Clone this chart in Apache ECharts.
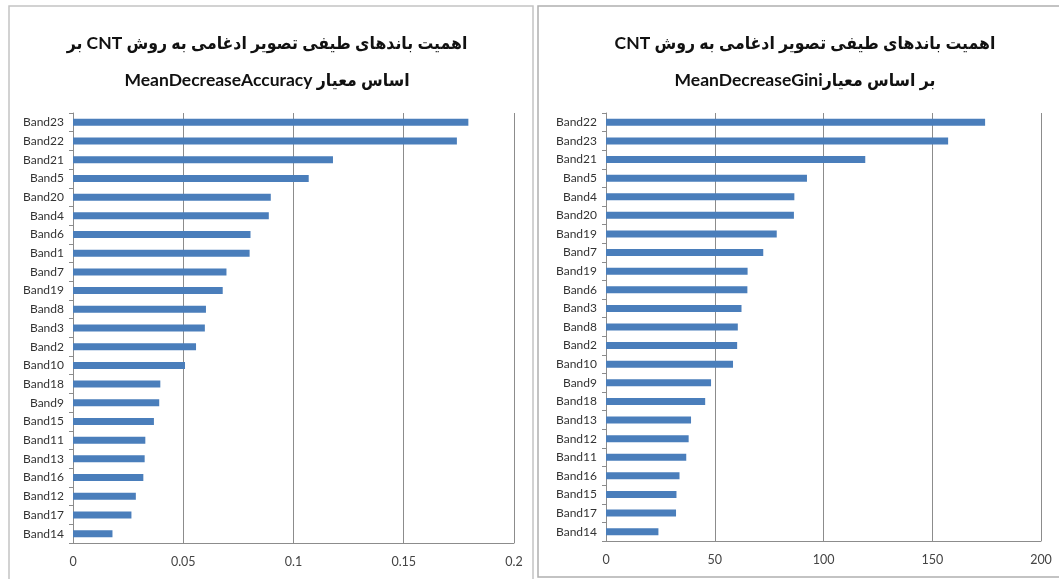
<!DOCTYPE html>
<html>
<head>
<meta charset="utf-8">
<script src="https://cdn.jsdelivr.net/npm/echarts@6/dist/echarts.min.js"></script>
<style>
html,body{margin:0;padding:0;background:#fff;}
#chart{width:1059px;height:579px;}
</style>
</head>
<body>
<div id="chart" dir="rtl"></div>
<script>
// Left chart: MeanDecreaseAccuracy (top to bottom)
const accCategories = ['Band23','Band22','Band21','Band5','Band20','Band4','Band6','Band1','Band7','Band19','Band8','Band3','Band2','Band10','Band18','Band9','Band15','Band11','Band13','Band16','Band12','Band17','Band14'];
const accValues = [0.1793,0.1741,0.1179,0.1069,0.0897,0.0888,0.0805,0.0801,0.0696,0.0679,0.0603,0.0598,0.0558,0.0508,0.0396,0.0391,0.0367,0.0328,0.0325,0.0319,0.0285,0.0265,0.0179];

// Right chart: MeanDecreaseGini (top to bottom)
const giniCategories = ['Band22','Band23','Band21','Band5','Band4','Band20','Band19','Band7','Band19','Band6','Band3','Band8','Band2','Band10','Band9','Band18','Band13','Band12','Band11','Band16','Band15','Band17','Band14'];
const giniValues = [174.3,157.3,119.2,92.4,86.6,86.4,78.5,72.3,65.1,65.0,62.3,60.6,60.3,58.4,48.3,45.6,39.1,38.0,36.9,33.8,32.4,32.2,24.1];

const accTicks = {min:0, max:0.2, interval:0.05};
const giniTicks = {min:0, max:200, interval:50};

const titleLeft = 'اهمیت باندهای طیفی تصویر ادغامی به روش CNT بر\nاساس معیار MeanDecreaseAccuracy';
const titleRight = 'اهمیت باندهای طیفی تصویر ادغامی به روش CNT\nبر اساس معیارMeanDecreaseGini';

const barColor = '#4a7ebb';
const gridColor = '#8c8c8c';
const labelFont = 'Lato, "Open Sans", sans-serif';
const titleFont = 'Lato, "DejaVu Sans Condensed", "DejaVu Sans", sans-serif';

function catAxis(idx, cats){
  return {
    type:'category', gridIndex:idx, data:cats, inverse:true,
    axisLine:{show:true, lineStyle:{color:gridColor, width:1}},
    axisTick:{show:true, length:4, lineStyle:{color:gridColor}},
    axisLabel:{color:'#333', fontSize:12, fontFamily:labelFont, margin:9},
    splitLine:{show:false}
  };
}
function valAxis(idx, t){
  return {
    type:'value', gridIndex:idx, min:t.min, max:t.max, interval:t.interval,
    axisLine:{show:true, lineStyle:{color:gridColor, width:1}},
    axisTick:{show:false},
    axisLabel:{color:'#444', fontSize:12.5, fontFamily:labelFont, margin:12},
    splitLine:{show:true, lineStyle:{color:gridColor, width:1}}
  };
}

const chart = echarts.init(document.getElementById('chart'), null, {renderer:'canvas'});
chart.setOption({
  backgroundColor:'#fff',
  animation:false,
  title:[
    {text:titleLeft, left:262, top:20, textAlign:'center',
     textStyle:{fontSize:17.5, fontWeight:'bold', color:'#111', fontFamily:titleFont, lineHeight:37}},
    {text:titleRight, left:800, top:20, textAlign:'center',
     textStyle:{fontSize:17.5, fontWeight:'bold', color:'#111', fontFamily:titleFont, lineHeight:37}}
  ],
  graphic:[
    {type:'rect', shape:{x:9, y:6, width:524, height:620}, style:{fill:'none', stroke:'#c4c4c4', lineWidth:1.5}, silent:true, z:-1},
    {type:'rect', shape:{x:538, y:6, width:540, height:571}, style:{fill:'none', stroke:'#b0b0b0', lineWidth:1.5}, silent:true, z:-1}
  ],
  grid:[
    {left:73, right:545, top:113, bottom:36},
    {left:606, right:18, top:113, bottom:38}
  ],
  xAxis:[valAxis(0, accTicks), valAxis(1, giniTicks)],
  yAxis:[catAxis(0, accCategories), catAxis(1, giniCategories)],
  series:[
    {type:'bar', xAxisIndex:0, yAxisIndex:0, data:accValues, barWidth:7, itemStyle:{color:barColor}},
    {type:'bar', xAxisIndex:1, yAxisIndex:1, data:giniValues, barWidth:7, itemStyle:{color:barColor}}
  ]
});
</script>
</body>
</html>
